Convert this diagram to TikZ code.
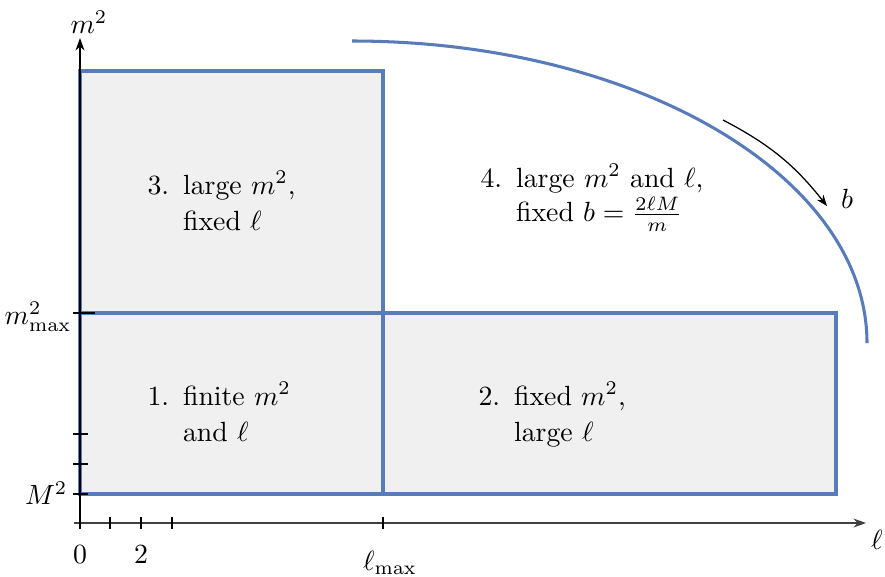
\documentclass[tikz,border=0pt]{standalone}
\usetikzlibrary{arrows.meta}
\definecolor{regblue}{RGB}{88,124,186}
\definecolor{regfill}{RGB}{240,240,240}
\begin{document}
\begin{tikzpicture}[x=0.36pt,y=-0.36pt,
  region/.style={draw=regblue,fill=regfill,line width=1.1pt},
  curveline/.style={draw=regblue,line width=1.1pt},
  axis/.style={line width=0.65pt,-{Stealth[length=4.5pt,width=3.2pt]}},
  tickmark/.style={line width=0.45pt},
  lbl/.style={inner sep=0pt},
  txt/.style={inner sep=0pt,anchor=base west}]
\useasboundingbox (0,0) rectangle (885,576);
% regions
\draw[region] (80,494) rectangle (383,313);
\draw[region] (383,494) rectangle (836,313);
\draw[region] (80,313) rectangle (383,71);
% curve
\draw[curveline] (352,41) arc[start angle=-90,end angle=0,x radius=515,y radius=302];
% axes
\coordinate (xs) at (74,523);
\coordinate (xe) at (866,523);
\coordinate (ys) at (80,529);
\coordinate (ye) at (80,38);
\draw[axis,black!75] (xs) -- (xe);
\draw[axis] (ys) -- (ye);
% x ticks
\foreach \x in {80,110,141,172,383}
  \draw[tickmark] (\x,517) -- (\x,529);
% y ticks
\foreach \y in {494,464,434}
  \draw[tickmark] (73,\y) -- (88,\y);
\draw[tickmark] (73,313) -- (95,313);
% axis labels
\node[lbl] (ml) at (89,22) {$m^2$};
\node[lbl] (ll) at (877,540) {$\ell$};
\node[lbl] (x0) at (80,555) {$0$};
\node[lbl] (x2) at (141,555) {$2$};
\node[lbl] (lmax) at (390,563) {$\ell_{\max}$};
\node[lbl,anchor=east] (M2) at (68,493) {$M^2$};
\node[lbl,anchor=east] (mmax) at (72,317) {$m^2_{\max}$};
% b arrow
\coordinate (bs) at (723,120);
\coordinate (be) at (827,206);
\draw[line width=0.45pt,-{Stealth[length=4pt,width=3pt]}] (bs) to[bend left=12] (be);
\node[lbl] (blab) at (847,199) {$b$};
% region texts
\node[txt] (t3) at (147,194) {\begin{tabular}[t]{@{}l@{\hspace{0.5em}}l@{}}3.& large $m^2$,\\[1.1pt] & fixed $\ell$\end{tabular}};
\node[txt] (t1) at (147,405) {\begin{tabular}[t]{@{}l@{\hspace{0.5em}}l@{}}1.& finite $m^2$\\[1.1pt] & and $\ell$\end{tabular}};
\node[txt] (t2) at (478,405) {\begin{tabular}[t]{@{}l@{\hspace{0.5em}}l@{}}2.& fixed $m^2$,\\[1.1pt] & large $\ell$\end{tabular}};
\node[txt] (t4) at (480,187) {\begin{tabular}[t]{@{}l@{\hspace{0.5em}}l@{}}4.& large $m^2$ and $\ell$,\\ & fixed $b=\frac{2\ell M}{m}$\end{tabular}};
\end{tikzpicture}
\end{document}
